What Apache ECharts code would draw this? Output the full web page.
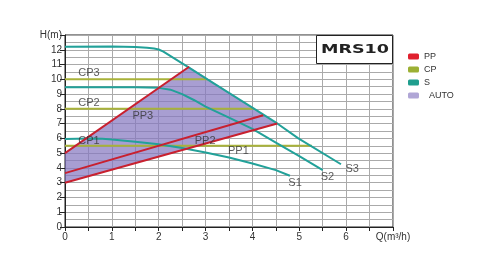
<!DOCTYPE html>
<html>
<head>
<meta charset="utf-8">
<script src="https://cdn.jsdelivr.net/npm/echarts@6/dist/echarts.min.js"></script>
<style>html,body{margin:0;padding:0;background:#fff;}#c{width:497px;height:265px;}</style>
</head>
<body>
<div id="c"></div>
<script>
// ---- data ----
const pp1 = [[0, 3.0], [4.53, 7.01]];
const pp2 = [[0, 3.65], [4.23, 7.57]];
const pp3 = [[0, 5.0], [2.65, 10.85]];
const cp1 = [[0, 5.5], [5.27, 5.5]];
const cp2 = [[0, 8.0], [4.04, 8.0]];
const cp3 = [[0, 10.0], [3.04, 10.0]];
const s1 = [[0, 5.95], [0.5, 6.0], [0.8, 5.98], [1, 5.92], [1.5, 5.78], [2, 5.6], [2.5, 5.35], [3, 5.05], [3.5, 4.7], [4, 4.3], [4.5, 3.85], [4.8, 3.47]];
const s2 = [[0, 9.46], [1, 9.47], [1.5, 9.46], [2, 9.42], [2.25, 9.3], [2.5, 9.0], [2.75, 8.6], [3.0, 8.15], [3.5, 7.4], [4.0, 6.65], [4.5, 5.72], [5.0, 4.8], [5.5, 3.85]];
const s3 = [[0, 12.2], [1, 12.22], [1.5, 12.19], [1.75, 12.14], [1.9, 12.08], [2.0, 12.02], [2.1, 11.88], [2.63, 10.83], [3.04, 10.0], [4.04, 8.0], [4.53, 7.01], [4.98, 6.0], [5.89, 4.25]];
const autoRegion = [[0, 3.0], [0, 5.0], [2.65, 10.85], [4.53, 7.01]];
const curveLabels = ['CP3', 'CP2', 'CP1', 'PP3', 'PP2', 'PP1', 'S1', 'S2', 'S3'];
const curveLabelPos = [[0.51, 10.4], [0.51, 8.38], [0.51, 5.82], [1.66, 7.5], [2.99, 5.82], [3.7, 5.17], [4.91, 2.97], [5.6, 3.41], [6.13, 3.91]];
const legendNames = ['PP', 'CP', 'S', 'AUTO'];
const xMax = 7, yMax = 13;
const xName = 'Q(m³/h)', yName = 'H(m)';

const RED = '#c8202f', OLIVE = '#a8b23a', TEAL = '#22a199';
const legendColors = ['#e0202e', '#9cb034', '#1f9e8e', '#b0a6d6'];
const chart = echarts.init(document.getElementById('c'));

function lineSeries(name, data, color) {
  return {
    name: name, type: 'line', data: data, showSymbol: false, symbol: 'none',
    lineStyle: { color: color, width: 2 }, itemStyle: { color: color }, z: 3, silent: true
  };
}

const option = {
  animation: false,
  textStyle: { fontFamily: 'Liberation Sans, Arial, sans-serif' },
  grid: { left: 65, right: 104, top: 35, bottom: 38, show: true, borderColor: '#222', borderWidth: 1, backgroundColor: 'transparent' },
  legend: {
    orient: 'vertical', left: 403, top: 47, itemWidth: 11, itemHeight: 6, itemGap: 4,
    icon: 'roundRect',
    textStyle: { fontSize: 9, color: '#333' },
    formatter: function (n) { return n === 'AUTO' ? '  AUTO' : n; },
    data: legendNames.map(function (n, i) { return { name: n, itemStyle: { color: legendColors[i] } }; }),
    selectedMode: false
  },
  xAxis: {
    type: 'value', min: 0, max: xMax, interval: 1,
    axisLine: { show: true, lineStyle: { color: '#222', width: 1 } },
    axisTick: { show: true, length: 4, lineStyle: { color: '#222' } },
    minorTick: { show: true, splitNumber: 2, length: 4, lineStyle: { color: '#222' } },
    axisLabel: {
      fontSize: 10, color: '#333', margin: 5,
      formatter: function (v) { return v === xMax ? xName : String(v); }
    },
    splitLine: { show: true, lineStyle: { color: '#aaa', width: 1 } },
    minorSplitLine: { show: true, lineStyle: { color: '#aaa', width: 1 } }
  },
  yAxis: {
    type: 'value', min: 0, max: yMax, interval: 1,
    axisLine: { show: true, lineStyle: { color: '#222', width: 1 } },
    axisTick: { show: true, length: 5, lineStyle: { color: '#222' } },
    minorTick: { show: false, splitNumber: 2 },
    axisLabel: {
      fontSize: 10, color: '#333', margin: 3,
      formatter: function (v) { return v === yMax ? yName : String(v); }
    },
    splitLine: { show: true, lineStyle: { color: '#aaa', width: 1 } },
    minorSplitLine: { show: true, lineStyle: { color: '#aaa', width: 1 } }
  },
  series: [
    {
      name: 'AUTO', type: 'custom', z: 1, silent: true,
      itemStyle: { color: '#b0a6d6' },
      data: autoRegion,
      renderItem: function (params, api) {
        if (params.dataIndex !== 0) return;
        const pts = autoRegion.map(function (p) { return api.coord(p); });
        return {
          type: 'polygon', shape: { points: pts },
          style: { fill: 'rgba(135,120,192,0.72)', stroke: null }
        };
      }
    },
    lineSeries('CP', cp1, OLIVE),
    lineSeries('CP', cp2, OLIVE),
    lineSeries('CP', cp3, OLIVE),
    lineSeries('S', s1, TEAL),
    lineSeries('S', s2, TEAL),
    lineSeries('S', s3, TEAL),
    lineSeries('PP', pp1, RED),
    lineSeries('PP', pp2, RED),
    lineSeries('PP', pp3, RED),
    {
      name: 'labels', type: 'scatter', symbolSize: 0, z: 5, silent: true,
      data: curveLabels.map(function (t, i) { return { name: t, value: curveLabelPos[i] }; }),
      label: { show: true, position: 'inside', formatter: '{b}', fontSize: 11, color: '#333' }
    }
  ],
  graphic: [
    {
      type: 'rect', z: 100, shape: { x: 316.5, y: 35.5, width: 76, height: 28 },
      style: { fill: '#fff', stroke: '#222', lineWidth: 1 }
    },
    {
      type: 'text', z: 101, x: 355, y: 49.5, scaleX: 1.35, scaleY: 1,
      style: { text: 'MRS10', font: 'bold 13px "DejaVu Sans"', fill: '#222', align: 'center', verticalAlign: 'middle' }
    }
  ]
};
chart.setOption(option);
</script>
</body>
</html>
